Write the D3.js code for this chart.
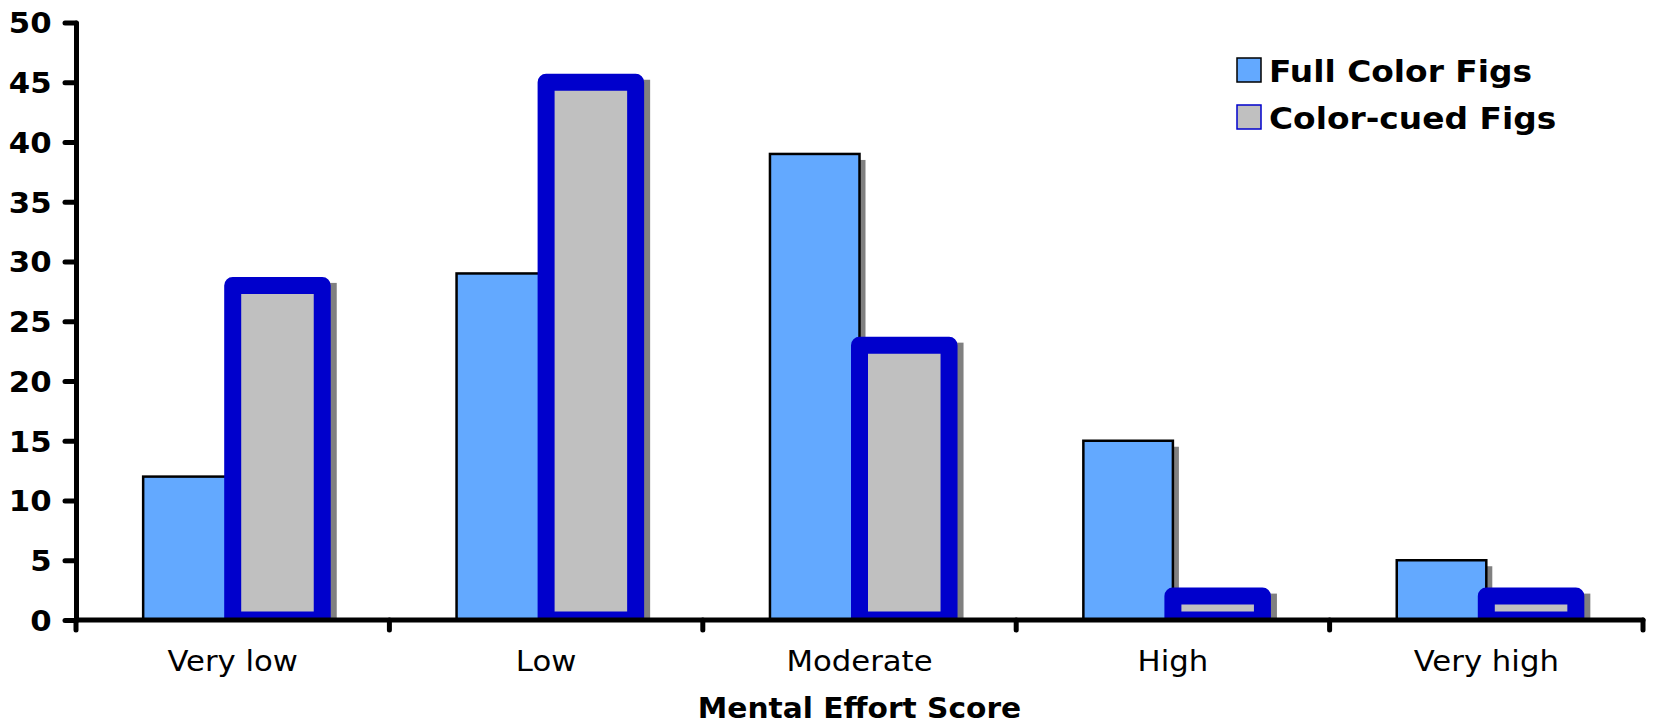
<!DOCTYPE html>
<html>
<head>
<meta charset="utf-8">
<script src="https://cdn.jsdelivr.net/npm/d3@7"></script>
<style>
  html, body { margin: 0; padding: 0; background: #fff; }
  svg { display: block; }
  text { font-family: "DejaVu Sans", Verdana, sans-serif; fill: #000; }
</style>
</head>
<body>
<svg id="chart" width="1654" height="724"></svg>
<script>
// Mental effort ratings, counts per score band
const categories = ["Very low", "Low", "Moderate", "High", "Very high"];
const seriesNames = ["Full Color Figs", "Color-cued Figs"];
const fullColor = [12, 29, 39, 15, 5];
const colorCued = [28, 45, 23, 2, 2];
const yTicks = [0, 5, 10, 15, 20, 25, 30, 35, 40, 45, 50];
const xTitle = "Mental Effort Score";

const W = 1654, H = 724;
const plot = { left: 76, right: 1643, top: 22.5, bottom: 620 };
const stretch = 1.06; // horizontal widening of the lettering

const svg = d3.select("#chart");

const x = d3.scaleBand()
  .domain(categories)
  .range([plot.left, plot.right])
  .paddingInner(0)
  .paddingOuter(0);

// Two bars per group with a gap of 1.5 bar widths
const barW = x.bandwidth() / 3.5;
const inner = d3.scaleBand()
  .domain(seriesNames)
  .range([0.75 * barW, 2.75 * barW])
  .padding(0);

const y = d3.scaleLinear().domain([0, 50]).range([plot.bottom, plot.top]);

svg.append("defs").append("clipPath").attr("id", "plotClip")
  .append("rect")
  .attr("x", plot.left).attr("y", 0)
  .attr("width", plot.right - plot.left + 20)
  .attr("height", plot.bottom);

const bars = svg.append("g").attr("clip-path", "url(#plotClip)");
const shadowDx = 6, shadowDy = 6;

// Full colour series: blue fill, thin black edge
bars.selectAll("rect.shadowA").data(fullColor).join("rect")
  .attr("x", (d, i) => x(categories[i]) + inner(seriesNames[0]) + shadowDx)
  .attr("y", d => y(d) + shadowDy)
  .attr("width", inner.bandwidth())
  .attr("height", d => plot.bottom - y(d))
  .attr("fill", "#808080");

bars.selectAll("rect.barA").data(fullColor).join("rect")
  .attr("x", (d, i) => x(categories[i]) + inner(seriesNames[0]))
  .attr("y", d => y(d))
  .attr("width", inner.bandwidth())
  .attr("height", d => plot.bottom - y(d))
  .attr("fill", "#63A9FF")
  .attr("stroke", "#000")
  .attr("stroke-width", 2.5);

// Colour-cued series: gray fill, heavy blue outline
const sw = 17;
bars.selectAll("rect.shadowB").data(colorCued).join("rect")
  .attr("x", (d, i) => x(categories[i]) + inner(seriesNames[1]) - sw / 2 + shadowDx)
  .attr("y", d => y(d) - sw / 2 + shadowDy)
  .attr("width", inner.bandwidth() + sw)
  .attr("height", d => plot.bottom - y(d) + sw)
  .attr("fill", "#808080");

bars.selectAll("rect.barB").data(colorCued).join("rect")
  .attr("x", (d, i) => x(categories[i]) + inner(seriesNames[1]))
  .attr("y", d => y(d))
  .attr("width", inner.bandwidth())
  .attr("height", d => plot.bottom - y(d))
  .attr("fill", "#C0C0C0")
  .attr("stroke", "#0000CC")
  .attr("stroke-width", sw)
  .attr("stroke-linejoin", "round");

// Y axis
const yAxis = svg.append("g")
  .attr("transform", `translate(${plot.left},0)`)
  .call(d3.axisLeft(y).tickValues(yTicks).tickSize(11).tickSizeOuter(0).tickPadding(12));
yAxis.select(".domain").attr("stroke", "#000").attr("stroke-width", 5).attr("stroke-linecap", "round");
yAxis.selectAll(".tick line").attr("stroke", "#000").attr("stroke-width", 5).attr("stroke-linecap", "round");
yAxis.selectAll(".tick text")
  .attr("font-family", "DejaVu Sans")
  .attr("font-weight", "bold")
  .attr("font-size", 29)
  .attr("fill", "#000")
  .attr("dy", "0.36em")
  .attr("transform", `scale(${stretch},1)`);

// X axis with ticks at category boundaries
const boundaries = d3.range(categories.length + 1).map(i => plot.left + i * x.bandwidth());
const xAxisG = svg.append("g");
xAxisG.append("line")
  .attr("x1", plot.left).attr("x2", plot.right)
  .attr("y1", plot.bottom).attr("y2", plot.bottom)
  .attr("stroke", "#000").attr("stroke-width", 5).attr("stroke-linecap", "round");
xAxisG.selectAll("line.tick").data(boundaries).join("line")
  .attr("x1", d => d).attr("x2", d => d)
  .attr("y1", plot.bottom).attr("y2", plot.bottom + 10)
  .attr("stroke", "#000").attr("stroke-width", 5).attr("stroke-linecap", "round");

xAxisG.selectAll("text.cat").data(categories).join("text")
  .attr("transform", d => `translate(${x(d) + x.bandwidth() / 2},671) scale(${stretch},1)`)
  .attr("text-anchor", "middle")
  .attr("font-size", 29)
  .text(d => d);

svg.append("text")
  .attr("transform", `translate(${(plot.left + plot.right) / 2},718) scale(${stretch},1)`)
  .attr("text-anchor", "middle")
  .attr("font-weight", "bold")
  .attr("font-size", 28)
  .text(xTitle);

// Legend
const legend = svg.append("g");
const legendItems = [
  { name: seriesNames[0], fill: "#63A9FF", stroke: "#000" },
  { name: seriesNames[1], fill: "#C0C0C0", stroke: "#0000CC" }
];
legendItems.forEach((it, i) => {
  const ly = 58 + i * 47;
  legend.append("rect")
    .attr("x", 1237).attr("y", ly)
    .attr("width", 24).attr("height", 24)
    .attr("fill", it.fill).attr("stroke", it.stroke).attr("stroke-width", 1.5);
  legend.append("text")
    .attr("transform", `translate(1269,${ly + 24}) scale(${stretch},1)`)
    .attr("font-weight", "bold")
    .attr("font-size", 31)
    .text(it.name);
});
</script>
</body>
</html>
